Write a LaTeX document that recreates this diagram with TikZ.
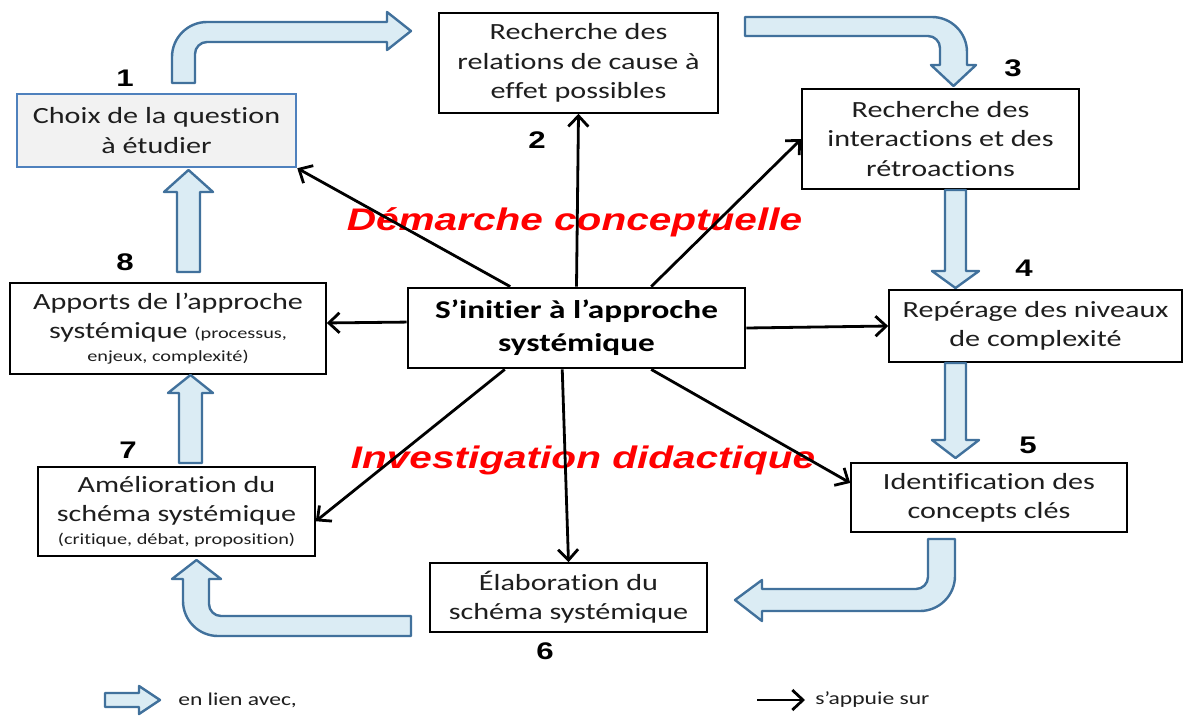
\documentclass[tikz,border=0pt]{standalone}
\usepackage{fontspec}
\setmainfont{Carlito}[FakeStretch=1.3, Ligatures=NoCommon]
\newfontfamily\arialfont{Liberation Sans}[FakeStretch=1.3]
\usetikzlibrary{arrows.meta,calc}

\definecolor{arrowfill}{RGB}{219,236,244}
\definecolor{arrowline}{RGB}{65,113,156}
\definecolor{boxfill}{RGB}{242,242,242}
\definecolor{boxline}{RGB}{79,129,189}
\definecolor{titlered}{RGB}{255,0,0}
\definecolor{inktext}{RGB}{30,30,30}

\newcommand\smalltext{\fontsize{11.7}{14}\selectfont}

\begin{document}
\begin{tikzpicture}[x=0.75pt,y=-0.75pt,
  boxsize/.style 2 args={minimum width=#1*0.75pt, minimum height=#2*0.75pt},
  stepbox/.style={draw=black, line width=1.2pt, fill=white, align=center, text=inktext,
    inner sep=0pt, font=\fontsize{17.4}{22}\selectfont},
  qbox/.style={stepbox, draw=boxline, fill=boxfill, line width=1.9pt},
  corebox/.style={stepbox, line width=2.1pt, text=black, font=\bfseries\fontsize{19.2}{25}\selectfont},
  numlabel/.style={inner sep=0pt, font=\arialfont\bfseries\fontsize{18}{20}\selectfont},
  redlabel/.style={inner sep=0pt, text=titlered, font=\arialfont\bfseries\itshape\fontsize{23.4}{26}\selectfont},
  legendtext/.style={inner sep=0pt, text=inktext, font=\fontsize{13.6}{16}\selectfont},
  conn/.style={line width=2.1pt, -{Straight Barb[length=8pt,width=15pt]}},
  blockarrow/.style={fill=arrowfill, draw=arrowline, line width=1.8pt, line join=round}]

\useasboundingbox (0,0) rectangle (1183,715);
\fill[white] (0,0) rectangle (1183,715);

% red headings, drawn first so the connectors cross over them
\node[redlabel, anchor=base] (dc) at (574.5,230) {Démarche conceptuelle};
\node[redlabel, anchor=base] (id) at (583,468) {Investigation didactique};

% the eight steps and the central box
\node[qbox, boxsize={279}{73}] (b1) at (156.5,130.5) {Choix de la question\\à étudier};
\node[stepbox, boxsize={279}{100}] (b2) at (578.5,63) {Recherche des\\relations de cause à\\effet possibles};
\node[stepbox, boxsize={277}{100}] (b3) at (940.5,139) {Recherche des\\interactions et des\\rétroactions};
\node[stepbox, boxsize={293}{72}] (b4) at (1035.5,326) {Repérage des niveaux\\de complexité};
\node[stepbox, boxsize={276}{69}] (b5) at (989,497.5) {Identification des\\concepts clés};
\node[stepbox, boxsize={277}{69}] (b6) at (568.5,597.5) {Élaboration du\\schéma systémique};
\node[stepbox, boxsize={277}{89}] (b7) at (176.5,511.5) {Amélioration du\\schéma systémique\\[-5pt]{\smalltext (critique, débat, proposition)}};
\node[stepbox, boxsize={316}{91}] (b8) at (168,328.5) {Apports de l’approche\\systémique {\smalltext (processus,}\\[-5pt]{\smalltext enjeux, complexité)}};
\node[corebox, boxsize={337}{80}] (c) at (576.5,328) {S’initier à l’approche\\systémique};

% step numbers
\node[numlabel] (n1) at (125,78) {1};
\node[numlabel] (n2) at (537,140) {2};
\node[numlabel] (n3) at (1013,68) {3};
\node[numlabel] (n4) at (1024,268) {4};
\node[numlabel] (n5) at (1028,445) {5};
\node[numlabel] (n6) at (545,651) {6};
\node[numlabel] (n7) at (128,450) {7};
\node[numlabel] (n8) at (125,262) {8};

% "s'appuie sur" connectors
\draw[conn] (c.148) -- (b1.-15);
\draw[conn] (c.north) -- (b2.south);
\draw[conn] (c.29) -- (b3.west);
\draw[conn] (c.east) -- (b4.west);
\draw[conn] (c.-29) -- (b5.174);
\draw[conn] (c.251) -- (b6.north);
\draw[conn] (c.210) -- (b7.-4);
\draw[conn] (c.178) -- (b8.2);

% "en lien avec" block arrows around the cycle
% 1 -> 2
\draw[blockarrow] (172,83) -- (172,57) .. controls (172,37.7) and (187.7,22) .. (207,22)
  -- (387,22) -- (387,12) -- (411,31) -- (387,50) -- (387,42) -- (207,42)
  .. controls (200.4,42) and (195,47.4) .. (195,54) -- (195,83) -- cycle;
% 2 -> 3
\draw[blockarrow] (745,17) -- (932,17) .. controls (951.3,17) and (967,32.7) .. (967,52)
  -- (967,65) -- (976,65) -- (953.5,86) -- (931,65) -- (940,65) -- (940,48)
  .. controls (940,41.4) and (934.6,36) .. (928,36) -- (745,36) -- cycle;
% 3 -> 4
\draw[blockarrow] (945,190) -- (945,271) -- (932,271) -- (955.5,288) -- (979,271)
  -- (966,271) -- (966,190) -- cycle;
% 4 -> 5
\draw[blockarrow] (945,363) -- (945,440) -- (932,440) -- (955.5,458) -- (979,440)
  -- (966,440) -- (966,363) -- cycle;
% 5 -> 6
\draw[blockarrow] (928,539) -- (955,539) -- (955,576) .. controls (955,595.3) and (939.3,611) .. (920,611)
  -- (762,611) -- (762,621) -- (735,600) -- (762,580) -- (762,589) -- (916,589)
  .. controls (922.6,589) and (928,583.6) .. (928,577) -- cycle;
% 6 -> 7
\draw[blockarrow] (411,636) -- (218,636) .. controls (198.7,636) and (183,620.3) .. (183,601)
  -- (183,579) -- (172,579) -- (196.5,560) -- (221,579) -- (209,579) -- (209,604)
  .. controls (209,610.6) and (214.4,616) .. (221,616) -- (411,616) -- cycle;
% 7 -> 8
\draw[blockarrow] (179,463) -- (179,393) -- (168,393) -- (190.5,375) -- (213,393)
  -- (202,393) -- (202,463) -- cycle;
% 8 -> 1
\draw[blockarrow] (177,272) -- (177,192) -- (164,192) -- (188.5,170) -- (213,192)
  -- (200,192) -- (200,272) -- cycle;

% legend
\draw[blockarrow] (105,693) -- (139,693) -- (139,686) -- (160,700) -- (139,714)
  -- (139,707) -- (105,707) -- cycle;
\node[legendtext, anchor=west] (l1) at (178,700) {en lien avec,};
\coordinate (la) at (757,700);
\coordinate (lb) at (805,700);
\draw[conn] (la) -- (lb);
\node[legendtext, anchor=west] (l2) at (815,700) {s’appuie sur};
\end{tikzpicture}
\end{document}
